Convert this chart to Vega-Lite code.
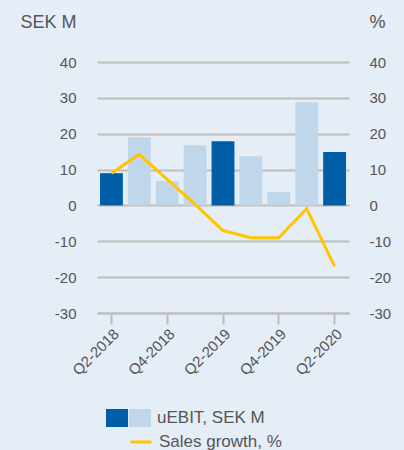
{
  "$schema": "https://vega.github.io/schema/vega-lite/v6.json",
  "width": 252,
  "height": 251,
  "autosize": {"type": "none"},
  "padding": {"left": 97, "top": 62, "right": 55, "bottom": 137},
  "background": "#e5edf7",
  "config": {
    "view": {"stroke": null},
    "font": "Liberation Sans",
    "axis": {"labelFont": "Liberation Sans", "labelColor": "#555555", "labelFontSize": 15, "titleFont": "Liberation Sans", "titleColor": "#555555", "titleFontWeight": "normal"},
    "legend": {"labelFont": "Liberation Sans", "labelColor": "#555555", "labelFontSize": 17}
  },
  "data": {
    "values": [
      {"q": "Q2-2018", "ebit": 9, "growth": 9, "type": "dark"},
      {"q": "Q3-2018", "ebit": 19, "growth": 14.2, "type": "light"},
      {"q": "Q4-2018", "ebit": 6.8, "growth": 7.3, "type": "light"},
      {"q": "Q1-2019", "ebit": 16.8, "growth": 0.3, "type": "light"},
      {"q": "Q2-2019", "ebit": 17.9, "growth": -7, "type": "dark"},
      {"q": "Q3-2019", "ebit": 13.7, "growth": -9, "type": "light"},
      {"q": "Q4-2019", "ebit": 3.7, "growth": -9, "type": "light"},
      {"q": "Q1-2020", "ebit": 28.8, "growth": -0.9, "type": "light"},
      {"q": "Q2-2020", "ebit": 14.9, "growth": -17, "type": "dark"}
    ]
  },
  "encoding": {
    "x": {
      "field": "q", "type": "nominal", "sort": null,
      "scale": {"paddingInner": 0.18, "paddingOuter": 0.107},
      "axis": {
        "title": null,
        "values": ["Q2-2018", "Q4-2018", "Q2-2019", "Q4-2019", "Q2-2020"],
        "labelAngle": -45, "labelAlign": "right", "labelBaseline": "top", "labelPadding": 2,
        "domainColor": "#c0bdb9", "domainWidth": 2,
        "tickColor": "#c0bdb9", "tickWidth": 2, "tickSize": 11,
        "grid": false
      }
    }
  },
  "layer": [
    {
      "mark": {"type": "bar"},
      "encoding": {
        "y": {
          "field": "ebit", "type": "quantitative",
          "scale": {"domain": [-30, 40], "nice": false},
          "axis": {
            "values": [-30, -20, -10, 0, 10, 20, 30, 40],
            "labelExpr": "'' + datum.value",
            "title": "SEK M", "titleAngle": 0, "titleAlign": "right", "titleBaseline": "middle",
            "titleX": -21, "titleY": -40, "titleFontSize": 18,
            "domain": false, "ticks": false, "labelPadding": 21,
            "grid": true, "gridColor": "#c0bdb9", "gridWidth": 2
          }
        },
        "color": {
          "field": "type", "type": "nominal",
          "scale": {"domain": ["dark", "light"], "range": ["#005ea8", "#c0d7eb"]},
          "legend": {
            "title": null, "orient": "none", "legendX": 9, "legendY": 345,
            "direction": "horizontal", "padding": 0,
            "symbolType": "M-1,-0.818H1V0.818H-1Z", "symbolSize": 484, "symbolOpacity": 1,
            "symbolStrokeWidth": 0,
            "labelOffset": 1, "columnPadding": 0,
            "labelExpr": "datum.label == 'light' ? 'uEBIT, SEK M' : ''",
            "encode": {"labels": {"update": {"dx": {"signal": "datum.value == 'light' ? 5 : 0"}}}}
          }
        }
      }
    },
    {
      "mark": {"type": "line", "strokeWidth": 3},
      "encoding": {
        "y": {
          "field": "growth", "type": "quantitative",
          "scale": {"domain": [-30, 40], "nice": false},
          "axis": {
            "orient": "right",
            "values": [-30, -20, -10, 0, 10, 20, 30, 40],
            "labelExpr": "'' + datum.value",
            "title": "%", "titleAngle": 0, "titleAlign": "left", "titleBaseline": "middle",
            "titleX": 20, "titleY": -40, "titleFontSize": 18,
            "domain": false, "ticks": false, "labelPadding": 20, "grid": false
          }
        },
        "stroke": {
          "datum": "Sales growth, %",
          "scale": {"range": ["#ffc600"]},
          "legend": {
            "title": null, "orient": "none", "legendX": 32, "legendY": 368,
            "padding": 0, "symbolType": "stroke", "symbolSize": 441, "symbolStrokeWidth": 3,
            "labelOffset": 6
          }
        }
      }
    }
  ],
  "resolve": {"scale": {"y": "independent"}}
}
